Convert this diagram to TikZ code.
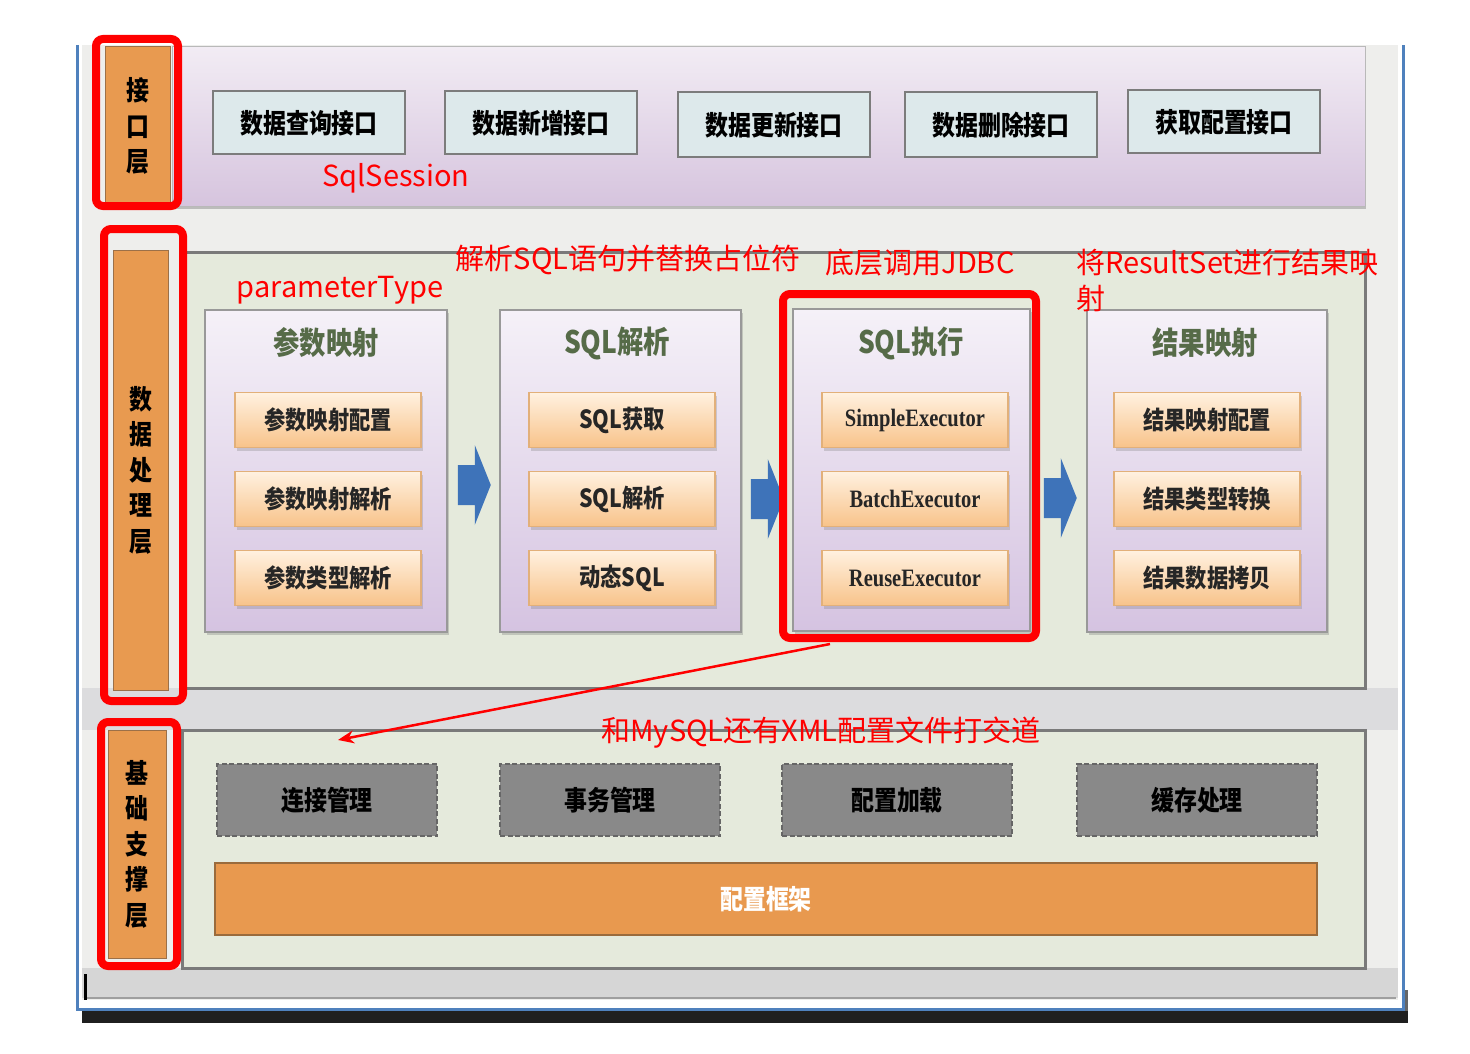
\documentclass[tikz,border=0pt]{standalone}
\usepackage{fontspec}
\newfontfamily\hei[FakeStretch=0.85]{Noto Sans CJK SC}
\newfontfamily\yahei{Noto Sans CJK SC}
\newfontfamily\execfont[FakeStretch=0.82]{Liberation Serif}
\usetikzlibrary{shadows,arrows.meta,calc}

\definecolor{winbg}{HTML}{EEEEEC}
\definecolor{bandgray}{HTML}{DCDCDE}
\definecolor{basegray}{HTML}{D6D6D6}
\definecolor{frameblue}{HTML}{4F81BD}
\definecolor{tagorange}{HTML}{E89A50}
\definecolor{tagedge}{HTML}{9C7048}
\definecolor{lavtop}{HTML}{F2ECF4}
\definecolor{lavbot}{HTML}{D6C4DE}
\definecolor{btnfill}{HTML}{DDE9EB}
\definecolor{btnline}{HTML}{7C7C7C}
\definecolor{panelfill}{HTML}{E5EADC}
\definecolor{panelline}{HTML}{7A7A7A}
\definecolor{grptop}{HTML}{F5F1F8}
\definecolor{grpbot}{HTML}{D5C3E1}
\definecolor{itemtop}{HTML}{FFF1E0}
\definecolor{itembot}{HTML}{F8C38A}
\definecolor{itemline}{HTML}{E2B07A}
\definecolor{titlegreen}{HTML}{566B48}
\definecolor{arrowblue}{HTML}{3E73B9}
\definecolor{dashfill}{HTML}{898989}
\definecolor{dashline}{HTML}{666666}
\definecolor{barorange}{HTML}{E8994F}
\definecolor{baredge}{HTML}{9A6B3C}
\definecolor{notered}{HTML}{FF0000}

\tikzset{
  layerbg/.style={top color=lavtop, bottom color=lavbot, draw=gray!55, line width=1,
    inner sep=0, drop shadow={shadow xshift=1pt, shadow yshift=-3pt, opacity=0.45}},
  tag/.style={fill=tagorange, draw=tagedge, line width=1, inner sep=0, align=center,
    font=\fontsize{27}{35.5}\selectfont\hei\bfseries},
  btn/.style={draw=btnline, line width=2, fill=btnfill, minimum width=192,
    minimum height=63, inner sep=0, font=\fontsize{27}{30}\selectfont\hei\bfseries},
  panel/.style={fill=panelfill, draw=panelline, line width=3, inner sep=0},
  group/.style={top color=grptop, bottom color=grpbot, draw=gray!80, line width=1.5,
    inner sep=0, minimum height=322,
    drop shadow={shadow xshift=1.5pt, shadow yshift=-3pt, opacity=0.35}},
  gtitle/.style={text=titlegreen, inner sep=0, font=\fontsize{31}{34}\selectfont\hei\bfseries},
  item/.style={top color=itemtop, bottom color=itembot, draw=itemline, line width=1.2,
    minimum width=186, minimum height=55, inner sep=0, text=black!85,
    font=\fontsize{25}{28}\selectfont\hei\bfseries,
    drop shadow={shadow xshift=1.5pt, shadow yshift=-3pt, opacity=0.3}},
  execitem/.style={item, font=\fontsize{25}{28}\selectfont\execfont\bfseries},
  infra/.style={fill=dashfill, draw=dashline, line width=2.5, dash pattern=on 5pt off 2.5pt,
    minimum height=72, inner sep=0, font=\fontsize{27}{30}\selectfont\hei\bfseries},
  cfgbar/.style={fill=barorange, draw=baredge, line width=2.5, inner sep=0, text=white,
    font=\fontsize{27}{30}\selectfont\hei\bfseries},
  hilite/.style={draw=notered, line width=8, rounded corners=7, inner sep=0},
  note/.style={text=notered, inner sep=0, font=\fontsize{29}{36}\selectfont\yahei},
  redarrow/.style={draw=notered, line width=2.5, -{Stealth[length=16pt,width=13pt]}},
  blockarrow/.pic={\fill[arrowblue] (0,-20) -- (17,-20) -- (17,-40) -- (33,0)
    -- (17,40) -- (17,20) -- (0,20) -- cycle;}
}

\begin{document}
\begin{tikzpicture}[x=1pt,y=-1pt]
\useasboundingbox (0,0) rectangle (1470,1054);

% window frame with its shadow
\fill[black!88] (82,1011) rectangle (1408,1023);
\fill[black!60] (1404,990) rectangle (1408,1011);
\fill[white] (77,45) rectangle (1403,1009);
\fill[winbg] (82,45) rectangle (1398,1000);
\fill[bandgray] (82,688) rectangle (1398,730);
\fill[basegray] (82,968) rectangle (1398,998);
\draw[gray!75, line width=1.5] (86,998) -- (1396,998);
\draw[black, line width=3] (85,974) -- (85,1000);
\draw[frameblue, line width=3] (77,45) -- (77,1009) -- (1403,1009) -- (1403,45);

% ---------- interface layer ----------
\node[layerbg, minimum width=1193, minimum height=159] (ifLayer) at (768.5,126.5) {};
\node[tag, minimum width=65, minimum height=158] (ifTag) at (137.5,126) {接\\口\\层};
\node[btn] (qry) at (309,123) {数据查询接口};
\node[btn] (ins) at (541,123) {数据新增接口};
\node[btn, minimum height=65] (upd) at (774,125) {数据更新接口};
\node[btn, minimum height=65] (del) at (1001,125) {数据删除接口};
\node[btn] (cfg) at (1224,122) {获取配置接口};
\node[note] (sqlsess) at (396,178) {SqlSession};

% ---------- data processing layer ----------
\node[panel, minimum width=1183, minimum height=436] (dataPanel) at (773.5,470) {};
\node[tag, minimum width=55, minimum height=440] (dataTag) at (140.5,470) {数\\据\\处\\理\\层};

\node[group, minimum width=242] (g1) at (326,471) {};
\node[group, minimum width=241] (g2) at (620.5,471) {};
\node[group, minimum width=237] (g3) at (911.5,470) {};
\node[group, minimum width=240] (g4) at (1207,471) {};

\node[gtitle] (g1t) at (326,343) {参数映射};
\node[gtitle] (g2t) at (617,343) {SQL解析};
\node[gtitle] (g3t) at (911,343) {SQL执行};
\node[gtitle] (g4t) at (1205,343) {结果映射};

\node[item] (g1a) at (328,420) {参数映射配置};
\node[item] (g1b) at (328,499) {参数映射解析};
\node[item] (g1c) at (328,578) {参数类型解析};
\node[item] (g2a) at (622,420) {SQL获取};
\node[item] (g2b) at (622,499) {SQL解析};
\node[item] (g2c) at (622,578) {动态SQL};
\node[execitem] (g3a) at (915,420) {SimpleExecutor};
\node[execitem] (g3b) at (915,499) {BatchExecutor};
\node[execitem] (g3c) at (915,578) {ReuseExecutor};
\node[item] (g4a) at (1207,420) {结果映射配置};
\node[item] (g4b) at (1207,499) {结果类型转换};
\node[item] (g4c) at (1207,578) {结果数据拷贝};

% flow between the four stages
\pic at ($(g1.east)+(10,14)$) {blockarrow};
\pic at ($(g2.east)+(9,28)$) {blockarrow};
\pic at ($(g3.east)+(13,28)$) {blockarrow};

% ---------- base support layer ----------
\node[panel, minimum width=1183, minimum height=238] (basePanel) at (773.5,849) {};
\node[tag, minimum width=58, minimum height=228] (baseTag) at (137,844) {基\\础\\支\\撑\\层};
\node[infra, minimum width=220] (conn) at (327,800) {连接管理};
\node[infra, minimum width=220] (tx) at (610,800) {事务管理};
\node[infra, minimum width=230] (load) at (897,800) {配置加载};
\node[infra, minimum width=240] (cache) at (1197,800) {缓存处理};
\node[cfgbar, minimum width=1102, minimum height=72] (cfgFrame) at (766,899) {配置框架};

% ---------- highlights and notes ----------
\node[hilite, minimum width=82, minimum height=167] (hl1) at (137,122.5) {};
\node[hilite, minimum width=79, minimum height=472] (hl2) at (143.5,465) {};
\node[hilite, minimum width=253, minimum height=344] (hl3) at (909.5,466) {};
\node[hilite, minimum width=76, minimum height=244] (hl4) at (139,844) {};

\node[note] (ptype) at (340,290) {parameterType};
\node[note] (parseNote) at (628,260) {解析SQL语句并替换占位符};
\node[note] (jdbcNote) at (920,263) {底层调用JDBC};
\node[note, anchor=north west, align=left] (rsNote) at (1076,249) {将ResultSet进行结果映\\射};
\node[note] (mysqlNote) at (821,733) {和MySQL还有XML配置文件打交道};

\coordinate (jdbcOut) at (830,644);
\coordinate (connIn) at (338,740);
\draw[redarrow] (jdbcOut) -- (connIn);
\end{tikzpicture}
\end{document}
